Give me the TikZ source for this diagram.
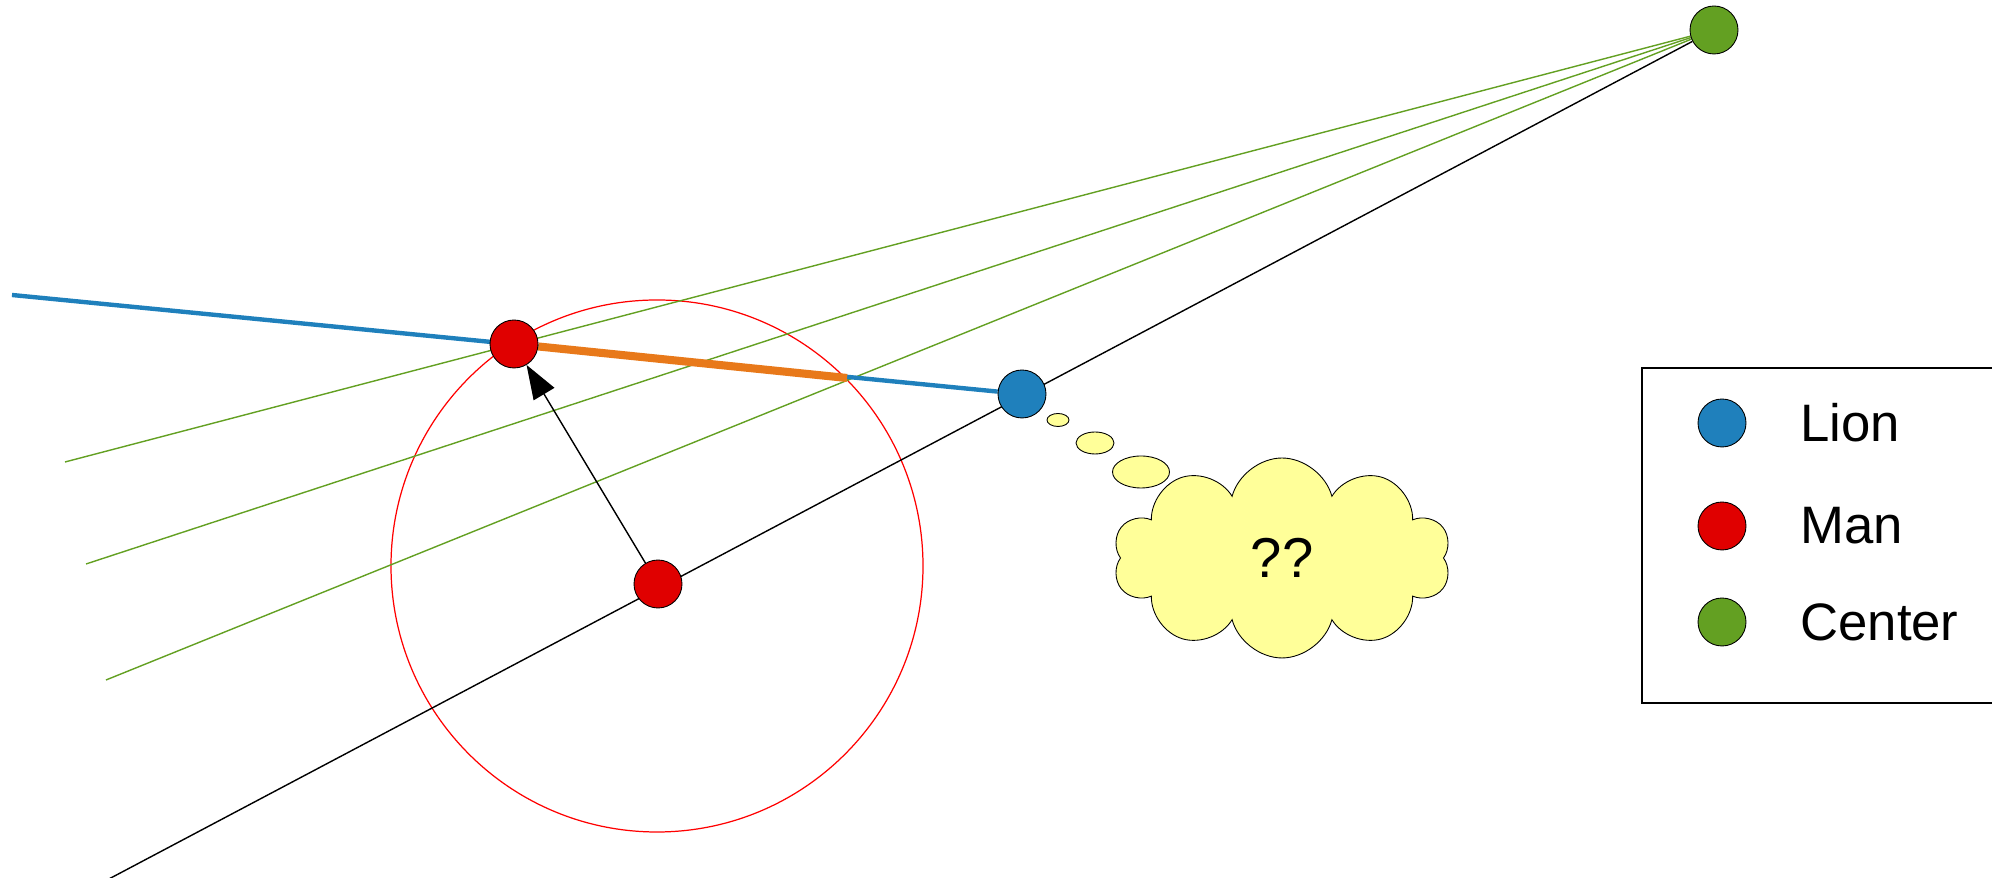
\documentclass[tikz,border=0pt]{standalone}
\usepackage{fontspec}
\setmainfont{Liberation Sans}
\usetikzlibrary{arrows.meta,shapes.geometric,shapes.symbols}
\pgfdeclarelayer{bg}
\pgfsetlayers{bg,main}
\definecolor{lionblue}{HTML}{1F80BC}
\definecolor{manred}{HTML}{E00000}
\definecolor{centergreen}{HTML}{63A022}
\definecolor{chaseorange}{HTML}{E8791A}
\definecolor{cloudyellow}{HTML}{FFFF99}
\begin{document}
\begin{tikzpicture}[x=0.02cm,y=0.02cm,
  agent/.style={circle,draw=black,line width=0.5pt,minimum size=0.96cm,inner sep=0pt},
  bubble/.style={ellipse,draw=black,line width=0.5pt,fill=cloudyellow,inner sep=0pt},
  ray/.style={centergreen,line width=0.8pt},
  lbl/.style={anchor=west,inner sep=0pt,font=\fontsize{30}{36}\selectfont}]
\useasboundingbox (0,0) rectangle (1992,878);
% the points
\node[agent,fill=centergreen] (center) at (1714,848) {};
\node[agent,fill=lionblue] (lion) at (1022,484) {};
\node[agent,fill=manred] (man) at (658,294) {};
\node[agent,fill=manred] (mannext) at (514,534) {};
\coordinate (far) at (107,-2);
\coordinate (west) at (12,583);
\coordinate (reach) at (847,500);
\coordinate (ga) at (65,416);
\coordinate (gb) at (86,314);
\coordinate (gc) at (106,198);
\begin{pgfonlayer}{bg}
\draw[red,line width=0.7pt] (657,312) circle (266);
\draw[ray] (center) -- (ga);
\draw[ray] (center) -- (gb);
\draw[ray] (center) -- (gc);
\draw[line width=0.8pt] (center) -- (far);
\draw[lionblue,line width=2.5pt] (west) -- (lion);
\draw[chaseorange,line width=4.6pt] (mannext) -- (reach);
\end{pgfonlayer}
\draw[line width=0.8pt,-{Triangle[length=0.68cm,width=0.48cm]}] (man) -- (mannext);
% thinking lion
\node[bubble,minimum width=0.44cm,minimum height=0.26cm] (b1) at (1058,458) {};
\node[bubble,minimum width=0.76cm,minimum height=0.44cm] (b2) at (1095,435) {};
\node[bubble,minimum width=1.14cm,minimum height=0.64cm] (b3) at (1141,406) {};
\node[cloud,draw=black,line width=0.5pt,fill=cloudyellow,cloud puffs=10,aspect=1.7,
  minimum width=6.76cm,minimum height=4.0cm,inner sep=0pt,
  font=\fontsize{32}{38}\selectfont] (thought) at (1282,320) {??};
% legend
\draw[line width=0.6pt] (1992,510) -- (1642,510) -- (1642,175) -- (1992,175);
\node[agent,fill=lionblue] (keylion) at (1722,455) {};
\node[agent,fill=manred] (keyman) at (1722,352) {};
\node[agent,fill=centergreen] (keycenter) at (1722,256) {};
\node[lbl] (lionlbl) at (1800,455) {Lion};
\node[lbl] (manlbl) at (1800,352) {Man};
\node[lbl] (centerlbl) at (1800,256) {Center};
\end{tikzpicture}
\end{document}
